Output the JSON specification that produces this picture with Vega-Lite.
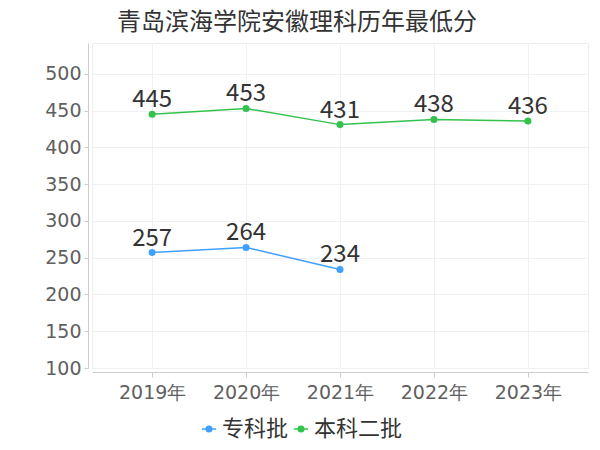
{
  "$schema": "https://vega.github.io/schema/vega-lite/v6.json",
  "autosize": {"type": "none"},
  "width": 496,
  "height": 325,
  "padding": {"left": 92, "top": 43, "right": 12, "bottom": 82},
  "background": "white",
  "title": {
    "text": "青岛滨海学院安徽理科历年最低分",
    "font": "Noto Sans CJK SC",
    "fontSize": 24,
    "fontWeight": "normal",
    "color": "#333333",
    "anchor": "start",
    "frame": "group",
    "dx": 25,
    "offset": 8
  },
  "config": {
    "view": {"stroke": "#eeeeee"},
    "axis": {
      "gridColor": "#f0f0f0",
      "domainColor": "#cccccc",
      "tickColor": "#cccccc",
      "labelColor": "#606060",
      "labelFont": "DejaVu Sans",
      "labelFontSize": 18,
      "title": null
    }
  },
  "data": {
    "values": [
      {"year": "2019年", "series": "专科批", "score": 257},
      {"year": "2020年", "series": "专科批", "score": 264},
      {"year": "2021年", "series": "专科批", "score": 234},
      {"year": "2019年", "series": "本科二批", "score": 445},
      {"year": "2020年", "series": "本科二批", "score": 453},
      {"year": "2021年", "series": "本科二批", "score": 431},
      {"year": "2022年", "series": "本科二批", "score": 438},
      {"year": "2023年", "series": "本科二批", "score": 436}
    ]
  },
  "encoding": {
    "x": {
      "field": "year",
      "type": "ordinal",
      "sort": null,
      "scale": {"type": "point", "padding": 0.64},
      "axis": {"labelAngle": 0, "offset": 4, "tickSize": 5, "labelPadding": 6, "grid": true, "labelFontSize": 19}
    },
    "y": {
      "field": "score",
      "type": "quantitative",
      "scale": {"domain": [100, 542], "nice": false, "zero": false},
      "axis": {"values": [100, 150, 200, 250, 300, 350, 400, 450, 500], "offset": 4, "tickSize": 4, "labelPadding": 3, "grid": true, "labelFontSize": 19}
    },
    "color": {
      "field": "series",
      "type": "nominal",
      "sort": ["专科批", "本科二批"],
      "scale": {"domain": ["专科批", "本科二批"], "range": ["#40a0ff", "#33c24d"]},
      "legend": {
        "orient": "none",
        "legendX": 106,
        "legendY": 375,
        "direction": "horizontal",
        "title": null,
        "labelFont": "Noto Sans CJK SC",
        "labelFontSize": 22,
        "labelColor": "#333333",
        "symbolType": "M-1,0H1M-0.4,0A0.4,0.4 0 1,0 0.4,0A0.4,0.4 0 1,0 -0.4,0",
        "symbolSize": 200,
        "symbolStrokeWidth": 1.5,
        "columnPadding": 1,
        "labelOffset": 2
      }
    }
  },
  "layer": [
    {"mark": {"type": "line", "strokeWidth": 1.5}},
    {"mark": {"type": "point", "filled": true, "size": 50, "opacity": 1}},
    {
      "mark": {"type": "text", "baseline": "bottom", "dy": -2, "font": "Noto Sans CJK SC", "fontSize": 24, "color": "#333333"},
      "encoding": {"text": {"field": "score", "type": "quantitative"}, "color": {"value": "#333333"}}
    }
  ]
}
